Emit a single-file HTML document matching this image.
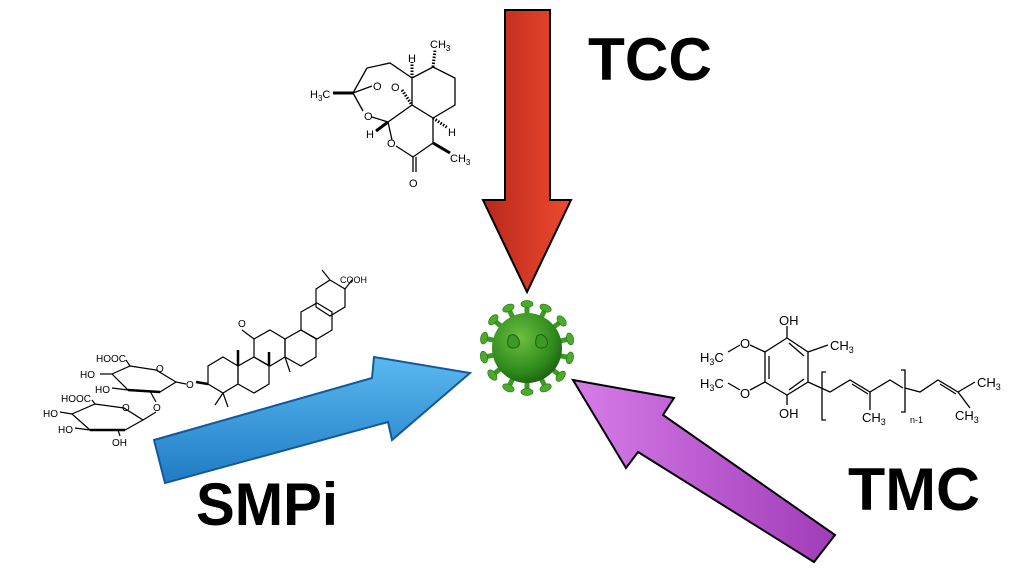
<!DOCTYPE html>
<html><head><meta charset="utf-8"><style>
html,body{margin:0;padding:0;background:#fff;}
svg{display:block;}
.t{font-family:"Liberation Sans",sans-serif;font-size:11px;fill:#000;}
.b{font-family:"Liberation Sans",sans-serif;font-weight:bold;font-size:60px;fill:#000;}
</style></head><body>
<svg width="1024" height="576" viewBox="0 0 1024 576" xmlns="http://www.w3.org/2000/svg">
<defs>
<linearGradient id="rg" x1="0" y1="0" x2="1" y2="0"><stop offset="0" stop-color="#b8281a"/><stop offset="1" stop-color="#ee4a30"/></linearGradient>
<linearGradient id="bg" x1="0" y1="0" x2="0" y2="1"><stop offset="0" stop-color="#5ab8f0"/><stop offset="1" stop-color="#1f7cc4"/></linearGradient>
<linearGradient id="pg" x1="0" y1="0" x2="1" y2="0"><stop offset="0" stop-color="#d67ce8"/><stop offset="1" stop-color="#a03cb8"/></linearGradient>
<radialGradient id="vg" cx="0.4" cy="0.35" r="0.7"><stop offset="0" stop-color="#6cc040"/><stop offset="0.7" stop-color="#2f8a1c"/><stop offset="1" stop-color="#1c5e10"/></radialGradient>
<g id="sp"><rect x="-2.5" y="-44" width="5" height="10" fill="#3a9a22"/><ellipse cx="0" cy="-44" rx="6" ry="3.5" fill="#4aac2a" stroke="#2a7a18" stroke-width="0.7"/></g>
</defs>

<polygon points="505,10 550,10 550,200 571,200 527,292 483,200 505,200" fill="url(#rg)" stroke="#000" stroke-width="2"/>
<polygon points="154,440 372,378 374,357 470,373 392,440 388,422 165,483" fill="url(#bg)" stroke="#15589a" stroke-width="2"/>
<polygon points="573,380 674,398 663,415 835,535 814,562 638,452 626,468" fill="url(#pg)" stroke="#000" stroke-width="2"/>

<g transform="translate(527,348)">
<use href="#sp" transform="rotate(0)"/><use href="#sp" transform="rotate(25)"/><use href="#sp" transform="rotate(52)"/><use href="#sp" transform="rotate(78)"/><use href="#sp" transform="rotate(103)"/><use href="#sp" transform="rotate(130)"/><use href="#sp" transform="rotate(155)"/><use href="#sp" transform="rotate(180)"/><use href="#sp" transform="rotate(205)"/><use href="#sp" transform="rotate(232)"/><use href="#sp" transform="rotate(258)"/><use href="#sp" transform="rotate(283)"/><use href="#sp" transform="rotate(310)"/><use href="#sp" transform="rotate(335)"/>
<circle r="35" fill="url(#vg)"/>
<path d="M-18,-12 q6,-4 10,4 q2,8 -6,8 q-8,0 -4,-12z" fill="#3c9a24" stroke="#1e6010" stroke-width="1"/>
<path d="M10,-12 q6,-4 10,4 q2,8 -6,8 q-8,0 -4,-12z" fill="#3c9a24" stroke="#1e6010" stroke-width="1"/>
</g>

<text class="b" x="588" y="80" textLength="124" lengthAdjust="spacingAndGlyphs">TCC</text>
<text class="b" x="196" y="525" textLength="142" lengthAdjust="spacingAndGlyphs">SMPi</text>
<text class="b" x="848" y="510" textLength="132" lengthAdjust="spacingAndGlyphs">TMC</text>

<g stroke="#000" stroke-width="1.3" fill="none">
<polyline points="412,78 433,67 455,78 455,105 433,118 412,105 412,78"/>
<line x1="433" y1="67" x2="435" y2="50" stroke-dasharray="1.5,1.5" stroke-width="3"/>
<line x1="412" y1="78" x2="412" y2="62" stroke-dasharray="1.5,1.5" stroke-width="3"/>
<line x1="433" y1="118" x2="448" y2="128" stroke-dasharray="1.5,1.5" stroke-width="3"/>
<line x1="433" y1="118" x2="433" y2="143"/>
<line x1="433" y1="143" x2="450" y2="153" stroke-width="3"/>
<line x1="433" y1="143" x2="413" y2="157"/>
<line x1="413" y1="157" x2="413" y2="172"/><line x1="416" y1="157" x2="416" y2="172"/>
<line x1="413" y1="157" x2="396" y2="146"/>
<line x1="392" y1="140" x2="388" y2="122"/>
<line x1="388" y1="122" x2="412" y2="105"/>
<line x1="388" y1="122" x2="372" y2="117"/>
<line x1="388" y1="122" x2="376" y2="131" stroke-width="3"/>
<line x1="363" y1="111" x2="353" y2="93"/>
<line x1="353" y1="93" x2="333" y2="93" stroke-width="3"/>
<line x1="353" y1="93" x2="367" y2="68"/>
<polyline points="367,68 390,63 412,78"/>
<line x1="353" y1="93" x2="372" y2="86"/>
<line x1="402" y1="90" x2="412" y2="105" stroke-dasharray="1.5,1.5" stroke-width="3"/>
</g>
<g class="t">
<text x="430" y="48">CH<tspan font-size="8" dy="3">3</tspan></text>
<text x="408" y="62">H</text>
<text x="448" y="136">H</text>
<text x="450" y="162">CH<tspan font-size="8" dy="3">3</tspan></text>
<text x="409" y="187">O</text>
<text x="387" y="147">O</text>
<text x="364" y="120">O</text>
<text x="366" y="138">H</text>
<text x="310" y="98">H<tspan font-size="8" dy="3">3</tspan><tspan dy="-3">C</tspan></text>
<text x="373" y="90">O</text><text x="391" y="91">O</text>
</g>

<g stroke="#000" stroke-width="1.2" fill="none">
<polygon points="223,357 238,366 238,384 223,393 208,384 208,366"/>
<polygon points="254,357 269,366 269,384 254,393 238,384 238,366"/>
<polygon points="270,330 285,339 285,357 270,366 254,357 254,339"/>
<polygon points="301,330 316,339 316,357 301,366 285,357 285,339"/>
<polygon points="317,303 332,312 332,330 317,339 301,330 301,312"/>
<polygon points="330,280 345,289 345,307 330,316 316,307 316,289"/>
<line x1="254" y1="339" x2="242" y2="330"/><line x1="345" y1="289" x2="352" y2="280"/><line x1="330" y1="280" x2="322" y2="270"/>
<line x1="238" y1="366" x2="238" y2="350" stroke-width="2.5"/><line x1="269" y1="366" x2="269" y2="352" stroke-width="2.5"/>
<line x1="285" y1="357" x2="290" y2="372"/>
<line x1="223" y1="393" x2="215" y2="405"/><line x1="223" y1="393" x2="228" y2="407"/>
<line x1="208" y1="384" x2="196" y2="382" stroke-width="2.5"/>
<!-- sugars -->
<polygon points="112,374 130,366 156,370 176,382 160,392 128,390"/>
<line x1="128" y1="390" x2="160" y2="392" stroke-width="2.5"/>
<polygon points="72,414 95,404 124,408 143,420 125,430 90,430"/>
<line x1="90" y1="430" x2="125" y2="430" stroke-width="2.5"/>
<line x1="176" y1="382" x2="186" y2="384"/>
<line x1="150" y1="391" x2="156" y2="402"/><line x1="156" y1="412" x2="143" y2="420"/>
<line x1="112" y1="374" x2="100" y2="374"/><line x1="128" y1="390" x2="112" y2="388"/>
<line x1="130" y1="366" x2="126" y2="360"/><line x1="72" y1="414" x2="60" y2="412"/><line x1="90" y1="430" x2="75" y2="428"/><line x1="95" y1="404" x2="92" y2="400"/><line x1="118" y1="430" x2="120" y2="436"/>
</g>
<g class="t">
<text x="238" y="327" font-size="10">O</text>
<text x="340" y="283" font-size="9">COOH</text>
<text x="96" y="362" font-size="10">HOOC</text>
<text x="80" y="378" font-size="10">HO</text>
<text x="95" y="393" font-size="10">HO</text>
<text x="156" y="372" font-size="10">O</text>
<text x="186" y="388" font-size="10">O</text>
<text x="61" y="402" font-size="10">HOOC</text>
<text x="43" y="417" font-size="10">HO</text>
<text x="58" y="433" font-size="10">HO</text>
<text x="153" y="411" font-size="10">O</text>
<text x="122" y="411" font-size="10">O</text>
<text x="112" y="446" font-size="10">OH</text>
</g>

<g stroke="#000" stroke-width="1.3" fill="none">
<polygon points="787,338 808,352 808,382 787,395 765,382 765,352"/>
<line x1="769" y1="356" x2="769" y2="379"/><line x1="804" y1="356" x2="789" y2="343"/><line x1="804" y1="379" x2="789" y2="390"/>
<line x1="787" y1="338" x2="787" y2="326"/><line x1="787" y1="395" x2="787" y2="405"/>
<line x1="808" y1="352" x2="828" y2="345"/>
<line x1="765" y1="352" x2="750" y2="345"/><line x1="765" y1="382" x2="750" y2="390"/>
<line x1="740" y1="345" x2="728" y2="352"/><line x1="740" y1="390" x2="728" y2="383"/>
<polyline points="808,382 830,392 850,380 870,392 890,380 903,388"/>
<line x1="852" y1="384" x2="868" y2="394"/>
<line x1="870" y1="392" x2="870" y2="410"/>
<polyline points="905,388 920,392 938,380 958,392 975,382"/>
<line x1="940" y1="384" x2="956" y2="394"/>
<line x1="958" y1="392" x2="970" y2="408"/>
<polyline points="826,372 822,372 822,420 826,420"/>
<polyline points="901,370 905,370 905,412 901,412"/>
</g>
<g class="t">
<text x="779" y="325" font-size="13">OH</text>
<text x="779" y="418" font-size="13">OH</text>
<text x="830" y="350" font-size="13">CH<tspan font-size="9" dy="3">3</tspan></text>
<text x="740" y="348" font-size="13">O</text>
<text x="740" y="398" font-size="13">O</text>
<text x="700" y="362" font-size="13">H<tspan font-size="9" dy="3">3</tspan><tspan dy="-3">C</tspan></text>
<text x="700" y="388" font-size="13">H<tspan font-size="9" dy="3">3</tspan><tspan dy="-3">C</tspan></text>
<text x="862" y="422" font-size="13">CH<tspan font-size="9" dy="3">3</tspan></text>
<text x="910" y="423" font-size="9">n-1</text>
<text x="977" y="387" font-size="13">CH<tspan font-size="9" dy="3">3</tspan></text>
<text x="955" y="420" font-size="13">CH<tspan font-size="9" dy="3">3</tspan></text>
</g>
</svg>
</body></html>
